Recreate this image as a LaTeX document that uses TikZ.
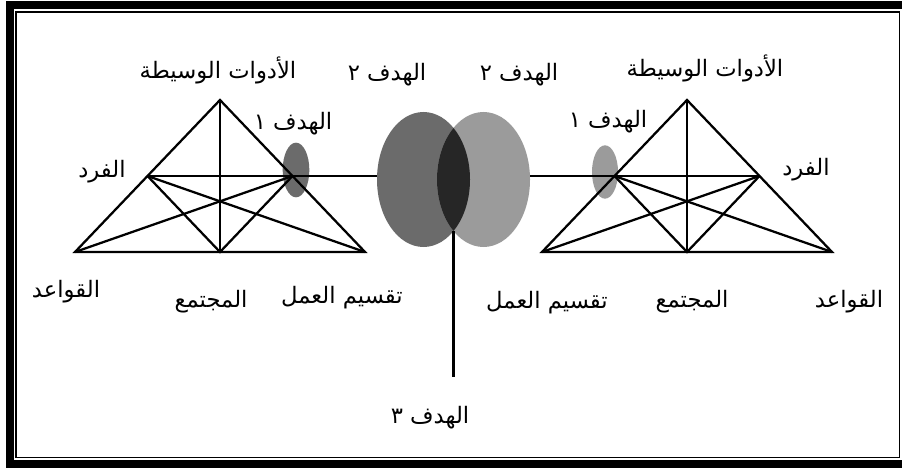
\documentclass[tikz,border=0pt]{standalone}
\usepackage{fontspec}
\newfontfamily\arabicfont[Script=Arabic]{DejaVu Sans}
\TeXXeTstate=1
\usetikzlibrary{shapes.geometric}
\definecolor{GoalDark}{RGB}{107,107,107}
\definecolor{GoalLight}{RGB}{155,155,155}
\definecolor{GoalShared}{RGB}{38,38,38}
\newcommand{\artext}[1]{\arabicfont\beginR #1\endR}

\begin{document}
\begin{tikzpicture}[x=0.75pt,y=-0.75pt,
    edge/.style={black, line width=1.7pt},
    goal/.style={ellipse, inner sep=0pt},
    lbl/.style={font=\fontsize{17}{19}\selectfont, inner sep=1pt}]
    \useasboundingbox (0,0) rectangle (902,470);
    \fill[white] (0,0) rectangle (902,470);

    % Double frame, its right part cut off by the page
    \begin{scope}
        \clip (0,0) rectangle (902,470);
        \draw[line width=6pt] (10,5) rectangle (915,463.5);
        \draw[line width=1.1pt] (15.8,11.8) rectangle (899.5,457.5);
    \end{scope}

    % Goal 2 of each system, overlapping in goal 3
    \node[goal, fill=GoalDark, minimum width=69.75pt, minimum height=101.25pt] (goal2L) at (423.5,179.5) {};
    \node[goal, fill=GoalLight, minimum width=69.75pt, minimum height=101.25pt] (goal2R) at (483.5,179.5) {};
    \begin{scope}
        \clip (423.5,179.5) ellipse [x radius=46.5, y radius=67.5];
        \fill[GoalShared] (483.5,179.5) ellipse [x radius=46.5, y radius=67.5];
    \end{scope}
    \coordinate (lens) at (453.5,231);
    \coordinate (stem) at (453.5,377);
    \draw[edge] (lens) -- (stem);

    % Goal 1 of each system
    \node[goal, fill=GoalDark, minimum width=20pt, minimum height=41pt] (goal1L) at (296,170) {};
    \node[goal, fill=GoalLight, minimum width=19.5pt, minimum height=40pt] (goal1R) at (605,172) {};

    % Two activity triangles, the right one mirrored
    \foreach \s/\cx/\d in {L/220/1, R/687/-1} {
        \coordinate (tools\s) at (\cx,100);
        \coordinate (rules\s) at ({\cx-145*\d},252);
        \coordinate (community\s) at (\cx,252);
        \coordinate (division\s) at ({\cx+145*\d},252);
        \coordinate (subject\s) at ({\cx-72.5*\d},176);
        \coordinate (object\s) at ({\cx+72.5*\d},176);

        \draw[edge] (tools\s) -- (rules\s) -- (division\s) -- cycle;
        \draw[edge] (tools\s) -- (community\s);
        \draw[edge] (subject\s) -- (object\s);
        \draw[edge] (subject\s) -- (community\s) -- (object\s);
        \draw[edge] (subject\s) -- (division\s);
        \draw[edge] (object\s) -- (rules\s);
    }

    % Object to shared goal
    \draw[edge, line width=1.9pt] (objectL) -- (objectL -| goal2L.west);
    \draw[edge, line width=1.9pt] (objectR) -- (objectR -| goal2R.east);

    % Labels, left system
    \node[lbl] (toolsLlbl) at (218,70) {\artext{الأدوات الوسيطة}};
    \node[lbl] (goal2Llbl) at (387,75) {\artext{الهدف ٢}};
    \node[lbl] (goal1Llbl) at (293,124) {\artext{الهدف ١}};
    \node[lbl] (subjectLlbl) at (102,172) {\artext{الفرد}};
    \node[lbl] (rulesLlbl) at (66,292) {\artext{القواعد}};
    \node[lbl] (communityLlbl) at (211,302) {\artext{المجتمع}};
    \node[lbl] (divisionLlbl) at (342,298) {\artext{تقسيم العمل}};

    % Labels, right system
    \node[lbl] (goal2Rlbl) at (519,75) {\artext{الهدف ٢}};
    \node[lbl] (toolsRlbl) at (705,68) {\artext{الأدوات الوسيطة}};
    \node[lbl] (goal1Rlbl) at (608,122) {\artext{الهدف ١}};
    \node[lbl] (subjectRlbl) at (806,170) {\artext{الفرد}};
    \node[lbl] (divisionRlbl) at (547,303) {\artext{تقسيم العمل}};
    \node[lbl] (communityRlbl) at (692,302) {\artext{المجتمع}};
    \node[lbl] (rulesRlbl) at (849,302) {\artext{القواعد}};

    % Shared goal
    \node[lbl] (goal3lbl) at (430,418) {\artext{الهدف ٣}};
\end{tikzpicture}
\end{document}
